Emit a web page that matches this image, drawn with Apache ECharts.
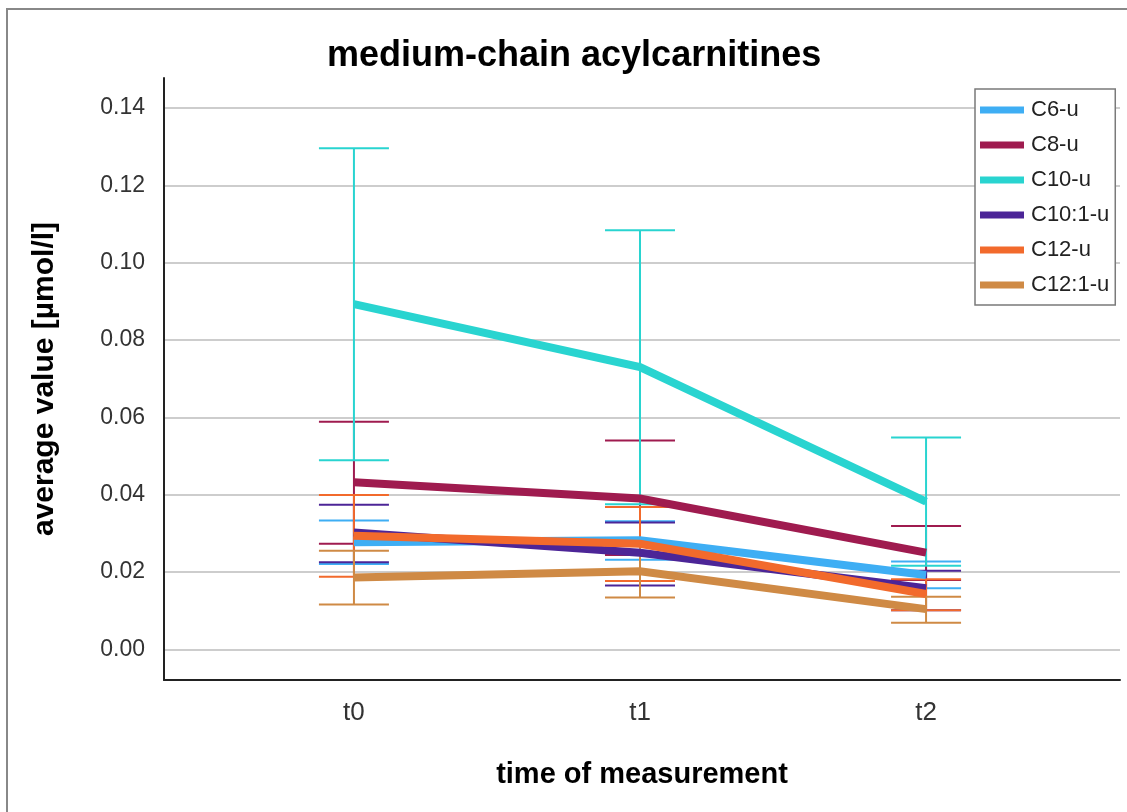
<!DOCTYPE html>
<html>
<head>
<meta charset="utf-8">
<title>medium-chain acylcarnitines</title>
<script src="https://cdn.jsdelivr.net/npm/echarts@6/dist/echarts.min.js"></script>
<style>
  html, body { margin: 0; padding: 0; background: #ffffff; }
  #chart { width: 1127px; height: 812px; }
</style>
</head>
<body>
<div id="chart"></div>
<script>
// Time points on the x axis
const times = ['t0', 't1', 't2'];
// Y-axis tick values
const yTicks = [0, 0.02, 0.04, 0.06, 0.08, 0.10, 0.12, 0.14];

// Series names in legend order
const names = ['C6-u', 'C8-u', 'C10-u', 'C10:1-u', 'C12-u', 'C12:1-u'];
const colors = ['#3eaef4', '#9f1b4f', '#29d4d0', '#4c2597', '#f26a2c', '#cf8a45'];

// Mean values per time point
const c6Mean   = [0.0277, 0.0282, 0.0192];
const c8Mean   = [0.0432, 0.0390, 0.0250];
const c10Mean  = [0.0893, 0.0730, 0.0382];
const c101Mean = [0.0302, 0.0250, 0.0158];
const c12Mean  = [0.0294, 0.0273, 0.0143];
const c121Mean = [0.0186, 0.0202, 0.0104];

// Lower error bar ends
const c6Low   = [0.0221, 0.0232, 0.0158];
const c8Low   = [0.0273, 0.0244, 0.0179];
const c10Low  = [0.0489, 0.0375, 0.0216];
const c101Low = [0.0225, 0.0165, 0.0101];
const c12Low  = [0.0188, 0.0177, 0.0101];
const c121Low = [0.0116, 0.0134, 0.0069];

// Upper error bar ends
const c6High   = [0.0333, 0.0331, 0.0227];
const c8High   = [0.0589, 0.0540, 0.0319];
const c10High  = [0.1296, 0.1084, 0.0548];
const c101High = [0.0374, 0.0328, 0.0203];
const c12High  = [0.0399, 0.0368, 0.0181];
const c121High = [0.0255, 0.0268, 0.0136];

const means = [c6Mean, c8Mean, c10Mean, c101Mean, c12Mean, c121Mean];
const lows  = [c6Low, c8Low, c10Low, c101Low, c12Low, c121Low];
const highs = [c6High, c8High, c10High, c101High, c12High, c121High];

const FONT = '"Liberation Sans", Arial, sans-serif';
const CAP_HALF = 35;

const chart = echarts.init(document.getElementById('chart'), null, { renderer: 'canvas' });

const series = [];

// Horizontal gridlines at the y ticks
series.push({
  name: 'grid',
  type: 'line',
  data: [],
  z: 0,
  silent: true,
  markLine: {
    silent: true,
    z: 0,
    symbol: ['none', 'none'],
    label: { show: false },
    lineStyle: { color: '#bdbdbd', width: 1.5, type: 'solid' },
    data: yTicks.map(t => ({ yAxis: t })),
    animation: false
  }
});

// Mean lines
names.forEach((name, i) => {
  series.push({
    name: name,
    type: 'line',
    data: means[i].map((v, k) => [k, v]),
    symbol: 'none',
    z: 3 + i * 0.01,
    lineStyle: { color: colors[i], width: 8, cap: 'butt', join: 'miter' },
    itemStyle: { color: colors[i] },
    emphasis: { disabled: true }
  });
});

// Error bars
names.forEach((name, i) => {
  series.push({
    name: name,
    type: 'custom',
    z: 2,
    data: means[i].map((v, k) => [k, lows[i][k], highs[i][k]]),
    itemStyle: { color: colors[i] },
    renderItem: function (params, api) {
      const x = api.value(0);
      const lo = api.coord([x, api.value(1)]);
      const hi = api.coord([x, api.value(2)]);
      const style = { stroke: colors[i], lineWidth: 2, fill: null };
      return {
        type: 'group',
        children: [
          { type: 'line', shape: { x1: lo[0], y1: lo[1], x2: hi[0], y2: hi[1] }, style: style },
          { type: 'line', shape: { x1: hi[0] - CAP_HALF, y1: hi[1], x2: hi[0] + CAP_HALF, y2: hi[1] }, style: style },
          { type: 'line', shape: { x1: lo[0] - CAP_HALF, y1: lo[1], x2: lo[0] + CAP_HALF, y2: lo[1] }, style: style }
        ]
      };
    }
  });
});

const option = {
  animation: false,
  backgroundColor: '#ffffff',
  title: {
    text: 'medium-chain acylcarnitines',
    left: 322,
    top: 33,
    textStyle: { fontFamily: FONT, fontSize: 36, fontWeight: 'bold', color: '#000000' }
  },
  legend: {
    orient: 'vertical',
    left: 975,
    top: 89,
    z: 20,
    data: names,
    icon: 'rect',
    itemWidth: 44,
    itemHeight: 7,
    itemGap: 13,
    padding: [10, 6, 9, 5],
    backgroundColor: '#ffffff',
    borderColor: '#7a7a7a',
    borderWidth: 1.5,
    selectedMode: false,
    textStyle: { fontFamily: FONT, fontSize: 22, color: '#222222', lineHeight: 22, padding: [0, 0, 0, 2] }
  },
  grid: { left: 164, right: 7, top: 78, bottom: 132, containLabel: false },
  xAxis: {
    type: 'value',
    min: -0.664,
    max: 2.678,
    name: 'time of measurement',
    nameLocation: 'middle',
    nameGap: 80,
    nameTextStyle: { fontFamily: FONT, fontSize: 29, fontWeight: 'bold', color: '#000000' },
    axisLine: { show: true, onZero: false, lineStyle: { color: '#222222', width: 2 } },
    axisTick: { show: false },
    splitLine: { show: false },
    axisLabel: {
      customValues: [0, 1, 2],
      formatter: v => times[Math.round(v)],
      margin: 20,
      fontFamily: FONT,
      fontSize: 26,
      color: '#333333'
    }
  },
  yAxis: {
    type: 'value',
    min: -0.00794,
    max: 0.1478,
    name: 'average value [µmol/l]',
    nameLocation: 'middle',
    nameGap: 104,
    nameTextStyle: { fontFamily: FONT, fontSize: 30, fontWeight: 'bold', color: '#000000' },
    axisLine: { show: true, onZero: false, lineStyle: { color: '#222222', width: 2 } },
    axisTick: { show: false },
    splitLine: { show: false },
    axisLabel: {
      customValues: yTicks,
      formatter: v => v.toFixed(2),
      margin: 19,
      fontFamily: FONT,
      fontSize: 23,
      color: '#333333'
    }
  },
  graphic: [
    {
      type: 'rect',
      silent: true,
      z: 100,
      shape: { x: 7, y: 9, width: 1200, height: 900 },
      style: { fill: null, stroke: '#888888', lineWidth: 2 }
    }
  ],
  series: series
};

chart.setOption(option);
</script>
</body>
</html>
